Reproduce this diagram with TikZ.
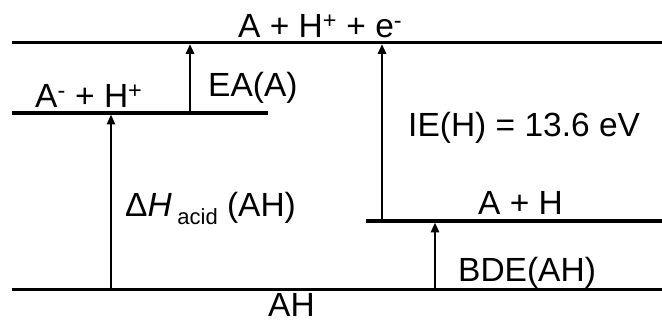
\documentclass[tikz,border=0pt]{standalone}
\usepackage{fontspec}
\setmainfont{Liberation Sans}
\usetikzlibrary{arrows.meta}

\tikzset{
  level/.style={line width=3.2pt},
  uparrow/.style={line width=2.8pt,-{Triangle[length=10pt,width=8pt]},shorten >=1.4pt},
  lbl/.style={anchor=base west,inner sep=0pt,font=\fontsize{33.5}{40}\selectfont}
}

\begin{document}
\begin{tikzpicture}[x=1pt,y=1pt]
\useasboundingbox (0,0) rectangle (662,324);

% energy levels
\coordinate (top-l) at (12,281.5);   \coordinate (top-r) at (662,281.5);
\coordinate (anion-l) at (12,211);   \coordinate (anion-r) at (268,211);
\coordinate (rad-l) at (366,103);    \coordinate (rad-r) at (662,103);
\coordinate (ah-l) at (12,34.5);     \coordinate (ah-r) at (662,34.5);

\draw[level] (top-l) -- (top-r);
\draw[level] (anion-l) -- (anion-r);
\draw[level] (rad-l) -- (rad-r);
\draw[level] (ah-l) -- (ah-r);

% level labels
\node[lbl] (ionized) at (238,286) {A + H\textsuperscript{+} + e\textsuperscript{-}};
\node[lbl] (anion) at (35,216) {A\textsuperscript{-} + H\textsuperscript{+}};
\node[lbl] (radical) at (478,109) {A + H};
\node[lbl] (acid) at (268,7) {AH};

% transitions
\coordinate (ea-s) at (190,211);  \coordinate (ea-e) at (190,281.5);
\coordinate (dh-s) at (111,34.5); \coordinate (dh-e) at (111,211);
\coordinate (ie-s) at (382,103);  \coordinate (ie-e) at (382,281.5);
\coordinate (bde-s) at (435,34.5);\coordinate (bde-e) at (435,103);

\draw[uparrow] (ea-s) -- (ea-e);
\draw[uparrow] (dh-s) -- (dh-e);
\draw[uparrow] (ie-s) -- (ie-e);
\draw[uparrow] (bde-s) -- (bde-e);

\node[lbl] (ea) at (208,227) {EA(A)};
\node[lbl] (ie) at (408,187) {IE(H) = 13.6 eV};
\node[lbl] (dh) at (125,107) {Δ\textit{H}\,\raisebox{-0.22em}{\fontsize{22}{26}\selectfont acid} (AH)};
\node[lbl] (bde) at (458,42) {BDE(AH)};

\end{tikzpicture}
\end{document}
